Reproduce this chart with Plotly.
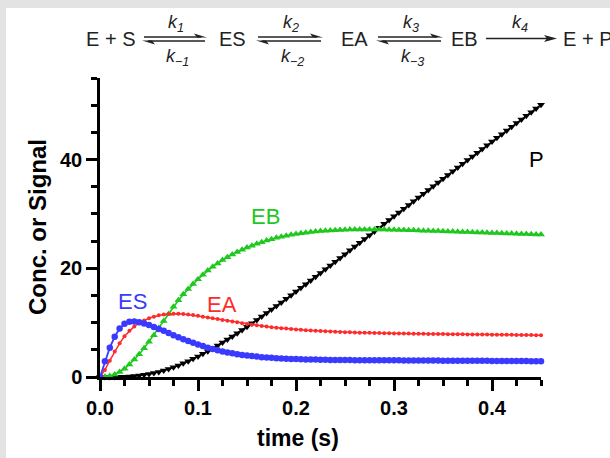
import numpy as np
import plotly.graph_objects as go

# time points (s)
time_s = np.round(np.arange(0, 91) * 0.005, 3)

ES = [0, 2.9, 5.4, 7.4, 8.9, 9.8, 10.15, 10.2, 10.05, 9.85,
      9.55, 9.2, 8.85, 8.5, 8.1, 7.7, 7.3, 6.95, 6.6, 6.3,
      6.0, 5.7, 5.4, 5.15, 4.9, 4.7, 4.5, 4.35, 4.2, 4.05,
      3.95, 3.85, 3.75, 3.65, 3.58, 3.52, 3.46, 3.41, 3.37, 3.33,
      3.3, 3.27, 3.24, 3.22, 3.2, 3.18, 3.16, 3.15, 3.14, 3.13,
      3.12, 3.11, 3.10, 3.10, 3.09, 3.09, 3.08, 3.08, 3.07, 3.07,
      3.06, 3.06, 3.05, 3.05, 3.04, 3.04, 3.03, 3.03, 3.02, 3.02,
      3.01, 3.01, 3.0, 3.0, 2.99, 2.99, 2.98, 2.98, 2.97, 2.97,
      2.96, 2.96, 2.95, 2.95, 2.94, 2.94, 2.93, 2.93, 2.92, 2.92,
      2.91]

EA = [0, 1.3, 3.0, 4.7, 6.2, 7.5, 8.5, 9.3, 9.9, 10.4,
      10.8, 11.1, 11.35, 11.5, 11.6, 11.65, 11.65, 11.6, 11.5, 11.4,
      11.25, 11.1, 10.95, 10.8, 10.65, 10.5, 10.35, 10.2, 10.05, 9.9,
      9.75, 9.62, 9.5, 9.38, 9.27, 9.17, 9.07, 8.98, 8.9, 8.82,
      8.75, 8.68, 8.62, 8.56, 8.5, 8.45, 8.4, 8.36, 8.32, 8.28,
      8.25, 8.22, 8.19, 8.16, 8.14, 8.12, 8.1, 8.08, 8.06, 8.04,
      8.02, 8.01, 7.99, 7.98, 7.96, 7.95, 7.94, 7.93, 7.91, 7.9,
      7.89, 7.88, 7.87, 7.86, 7.85, 7.84, 7.83, 7.82, 7.81, 7.8,
      7.79, 7.78, 7.77, 7.76, 7.75, 7.74, 7.73, 7.72, 7.71, 7.7,
      7.69]

EB = [0, 0.05, 0.2, 0.45, 0.9, 1.5, 2.3, 3.2, 4.2, 5.3,
      6.5, 7.7, 9.0, 10.3, 11.6, 12.9, 14.1, 15.2, 16.2, 17.1,
      18.0, 18.8, 19.6, 20.3, 20.9, 21.5, 22.05, 22.55, 23.0, 23.4,
      23.8, 24.15, 24.5, 24.8, 25.1, 25.35, 25.6, 25.8, 26.0, 26.15,
      26.3, 26.45, 26.55, 26.65, 26.75, 26.85, 26.9, 26.95, 27.0, 27.05,
      27.1, 27.12, 27.14, 27.15, 27.15, 27.15, 27.14, 27.13, 27.11, 27.09,
      27.07, 27.05, 27.03, 27.0, 26.98, 26.95, 26.92, 26.9, 26.87, 26.84,
      26.81, 26.78, 26.75, 26.72, 26.69, 26.66, 26.63, 26.6, 26.57, 26.54,
      26.5, 26.47, 26.44, 26.41, 26.38, 26.35, 26.32, 26.29, 26.26, 26.23,
      26.2]

P = [0, 0.0, 0.0, 0.01, 0.03, 0.06, 0.11, 0.18, 0.27, 0.40,
     0.55, 0.73, 0.94, 1.19, 1.47, 1.79, 2.13, 2.51, 2.91, 3.34,
     3.79, 4.26, 4.75, 5.26, 5.79, 6.34, 6.90, 7.47, 8.05, 8.65,
     9.25, 9.87, 10.49, 11.12, 11.76, 12.41, 13.06, 13.72, 14.39, 15.06,
     15.73, 16.41, 17.08, 17.77, 18.45, 19.14, 19.83, 20.52, 21.21, 21.90,
     22.60, 23.30, 23.99, 24.69, 25.38, 26.08, 26.78, 27.47, 28.17, 28.86,
     29.56, 30.25, 30.95, 31.64, 32.33, 33.02, 33.71, 34.40, 35.09, 35.78,
     36.47, 37.16, 37.84, 38.53, 39.21, 39.90, 40.58, 41.26, 41.95, 42.63,
     43.31, 43.99, 44.67, 45.34, 46.02, 46.70, 47.37, 48.05, 48.72, 49.39,
     50.06]

x_ticks = [0.0, 0.1, 0.2, 0.3, 0.4]
x_tick_labels = ["0.0", "0.1", "0.2", "0.3", "0.4"]
y_ticks = [0, 20, 40]
y_tick_labels = ["0", "20", "40"]

BLUE = "#3a3aff"
RED = "#ff2a2a"
GREEN = "#1ec81e"
BLACK = "#000000"

W, H = 610, 458
ML, MR, MT, MB = 100, 69, 78, 81
PW, PH = W - ML - MR, H - MT - MB
FONT = "Liberation Sans, Arial, sans-serif"


def px(x):
    return (x - ML) / PW


def py(y):
    return (H - MB - y) / PH


fig = go.Figure()

series = [
    ("P", P, BLACK, "triangle-down", 7, 1.6),
    ("EB", EB, GREEN, "triangle-up", 7, 1.6),
    ("EA", EA, RED, "circle", 4, 1.5),
    ("ES", ES, BLUE, "circle", 6.5, 1.8),
]
for name, vals, col, sym, sz, lw in series:
    fig.add_trace(go.Scatter(
        x=time_s, y=vals, mode="lines+markers", name=name,
        line=dict(color=col, width=lw),
        marker=dict(symbol=sym, size=sz, color=col, line=dict(width=0)),
        cliponaxis=False, showlegend=False))

ann = []


def text_at(x, y, txt, font, xanchor="center", **kw):
    ann.append(dict(x=px(x), y=py(y), xref="paper", yref="paper", text=txt,
                    xanchor=xanchor, yanchor="middle", showarrow=False, font=font, **kw))


# curve labels (data coordinates)
labels = [("ES", 0.033, 13.8, BLUE), ("EA", 0.124, 13.4, RED),
          ("EB", 0.169, 29.5, GREEN), ("P", 0.445, 40.0, BLACK)]
for txt, xx, yy, col in labels:
    ann.append(dict(x=xx, y=yy, xref="x", yref="y", text=txt, showarrow=False,
                    xanchor="center", yanchor="middle",
                    font=dict(family=FONT, size=22, color=col)))

# axis titles
text_at(298, 438, "<b>time (s)</b>", dict(family=FONT, size=23, color="black"))
text_at(37, 227, "<b>Conc. or Signal</b>", dict(family=FONT, size=24, color="black"), textangle=-90)

# reaction scheme
SCH = "#222222"
sfont = dict(family=FONT, size=20, color=SCH)
kfont = dict(family=FONT, size=18, color=SCH)
TY = 39
for txt, cx in [("E + S", 110), ("ES", 232), ("EA", 354), ("EB", 464)]:
    text_at(cx, TY, txt, sfont)
text_at(561, TY, "E + P", sfont, xanchor="left")

shapes = []
# white page inside the light gray border strips (top / left)
shapes.append(dict(type="rect", xref="paper", yref="paper", x0=px(6), x1=px(W + 5),
                   y0=py(8), y1=py(H + 5), fillcolor="white", line=dict(width=0), layer="below"))

arrows = [(142, 207, "<i>k<sub>1</sub></i>", "<i>k<sub>−1</sub></i>"),
          (256, 323, "<i>k<sub>2</sub></i>", "<i>k<sub>−2</sub></i>"),
          (376, 443, "<i>k<sub>3</sub></i>", "<i>k<sub>−3</sub></i>")]
for x0, x1, ktop, kbot in arrows:
    cx = (x0 + x1) / 2
    yt, yb = 37.0, 41.0
    shapes.append(dict(type="line", xref="paper", yref="paper", x0=px(x0 + 2), x1=px(x1 - 6),
                       y0=py(yt), y1=py(yt), line=dict(color=SCH, width=1.3)))
    shapes.append(dict(type="line", xref="paper", yref="paper", x0=px(x0 + 6), x1=px(x1 - 2),
                       y0=py(yb), y1=py(yb), line=dict(color=SCH, width=1.3)))
    shapes.append(dict(type="path", xref="paper", yref="paper",
                       path=f"M {px(x1)} {py(yt + 0.6)} L {px(x1 - 13)} {py(yt - 3.5)} L {px(x1 - 10)} {py(yt + 0.6)} Z",
                       fillcolor=SCH, line=dict(width=0)))
    shapes.append(dict(type="path", xref="paper", yref="paper",
                       path=f"M {px(x0)} {py(yb - 0.6)} L {px(x0 + 13)} {py(yb + 3.5)} L {px(x0 + 10)} {py(yb - 0.6)} Z",
                       fillcolor=SCH, line=dict(width=0)))
    text_at(cx + 1, 24, ktop, kfont)
    text_at(cx + 3, 57, kbot, kfont)

# irreversible arrow k4
a0, a1, ay = 486, 557, 38.5
shapes.append(dict(type="line", xref="paper", yref="paper", x0=px(a0), x1=px(a1 - 8),
                   y0=py(ay), y1=py(ay), line=dict(color=SCH, width=1.3)))
shapes.append(dict(type="path", xref="paper", yref="paper",
                   path=f"M {px(a1)} {py(ay)} L {px(a1 - 13)} {py(ay - 3.5)} L {px(a1 - 10)} {py(ay)} L {px(a1 - 13)} {py(ay + 3.5)} Z",
                   fillcolor=SCH, line=dict(width=0)))
text_at(520, 24, "<i>k<sub>4</sub></i>", kfont)

axis_common = dict(showline=True, linecolor="black", linewidth=2.5, ticks="outside",
                   tickwidth=2.5, tickcolor="black", showgrid=False, zeroline=False,
                   tickfont=dict(family=FONT, size=20, color="black"),
                   mirror=False)

fig.update_layout(
    width=W, height=H,
    margin=dict(l=ML, r=MR, t=MT, b=MB, pad=0),
    paper_bgcolor="#e3e3e3", plot_bgcolor="rgba(0,0,0,0)",
    xaxis=dict(range=[0, 0.45], tickvals=x_ticks, ticktext=[f"<b>{t}</b>" for t in x_tick_labels],
               ticklen=11, minor=dict(dtick=0.025, ticklen=6, tickwidth=2.5, tickcolor="black", ticks="outside"),
               **axis_common),
    yaxis=dict(range=[0, 55], tickvals=y_ticks, ticktext=[f"<b>{t}</b>" for t in y_tick_labels],
               ticklen=11, minor=dict(dtick=5, ticklen=6, tickwidth=2.5, tickcolor="black", ticks="outside"),
               **axis_common),
    annotations=ann, shapes=shapes,
)

fig.write_html("out.html", config={"displayModeBar": False},
               post_script="document.body.style.margin='0px';document.body.style.background='#e3e3e3';")
